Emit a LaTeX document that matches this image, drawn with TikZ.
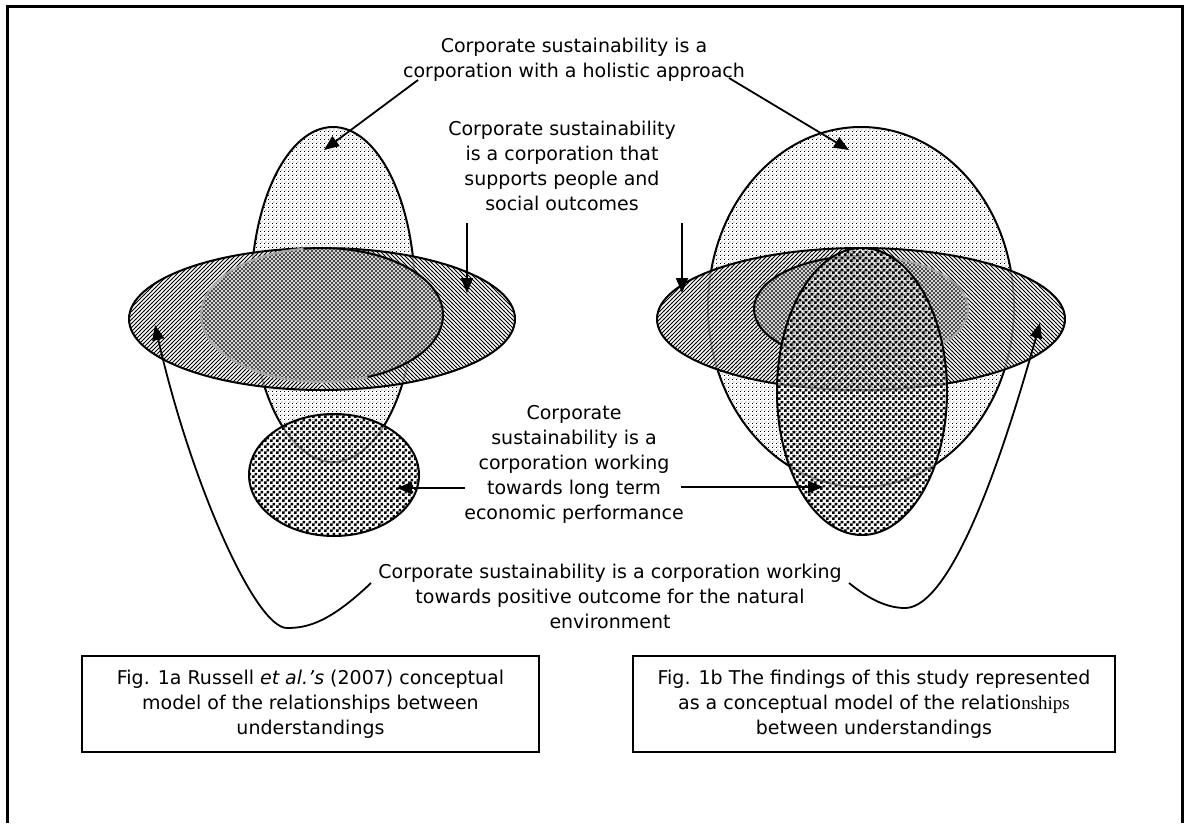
\documentclass[tikz,border=0pt]{standalone}
\usepackage{fontspec}
\setmainfont{DejaVu Sans}
\newfontfamily\serifpart{Liberation Serif}
\usetikzlibrary{patterns,arrows.meta}

\pgfdeclarepatternformonly{lightdots}{\pgfpointorigin}{\pgfqpoint{4pt}{4pt}}{\pgfqpoint{4pt}{4pt}}{%
  \pgfpathrectangle{\pgfqpoint{0pt}{0pt}}{\pgfqpoint{0.95pt}{0.95pt}}%
  \pgfpathrectangle{\pgfqpoint{2pt}{2pt}}{\pgfqpoint{0.95pt}{0.95pt}}%
  \pgfusepath{fill}}
\pgfdeclarepatternformonly{darkdots}{\pgfpointorigin}{\pgfqpoint{5.6pt}{5.6pt}}{\pgfqpoint{5.6pt}{5.6pt}}{%
  \pgfpathrectangle{\pgfqpoint{0pt}{0pt}}{\pgfqpoint{2.8pt}{2.8pt}}%
  \pgfpathrectangle{\pgfqpoint{2.8pt}{2.8pt}}{\pgfqpoint{2.8pt}{2.8pt}}%
  \pgfusepath{fill}}
\pgfdeclarepatternformonly{hne}{\pgfqpoint{-1pt}{-1pt}}{\pgfqpoint{5pt}{5pt}}{\pgfqpoint{4pt}{4pt}}{%
  \pgfsetlinewidth{0.75pt}%
  \pgfpathmoveto{\pgfqpoint{-0.2pt}{-0.2pt}}%
  \pgfpathlineto{\pgfqpoint{4.2pt}{4.2pt}}%
  \pgfusepath{stroke}}
\pgfdeclarepatternformonly{hnw}{\pgfqpoint{-1pt}{-1pt}}{\pgfqpoint{5pt}{5pt}}{\pgfqpoint{4pt}{4pt}}{%
  \pgfsetlinewidth{0.75pt}%
  \pgfpathmoveto{\pgfqpoint{-0.2pt}{4.2pt}}%
  \pgfpathlineto{\pgfqpoint{4.2pt}{-0.2pt}}%
  \pgfusepath{stroke}}

\newcommand\lblfont{\fontsize{19}{25}\selectfont}

\tikzset{
  frameline/.style={line width=3pt},
  outl/.style={line width=2pt, black},
  grayoutl/.style={line width=2pt, black!35},
  arr/.style={line width=1.8pt, -{Triangle[length=15pt,width=12pt]}},
  lbl/.style={align=center, font=\lblfont, inner sep=0pt},
  capbox/.style={draw, line width=1.6pt, align=center, font=\lblfont, minimum height=96pt, inner sep=0pt},
  innerhatch/.style={pattern color=black!70},
}

\begin{document}
\begin{tikzpicture}[x=1pt,y=-1pt]
\useasboundingbox (0,0) rectangle (1186,823);
\draw[frameline] (7,823) -- (7,6) -- (1182,6) -- (1182,823);

% ---------------- Left figure ----------------
\coordinate (LT) at (333,294.5);
\coordinate (LD) at (334,475);
\coordinate (LH) at (322,319);
\coordinate (LI) at (322,315);

% tall dotted ellipse
\fill[white] (LT) ellipse [x radius=82, y radius=167.5];
\fill[pattern=lightdots] (LT) ellipse [x radius=82, y radius=167.5];
\draw[outl] (LT) ellipse [x radius=82, y radius=167.5];

% dark small ellipse
\fill[white, opacity=0.6] (LD) ellipse [x radius=85, y radius=61];
\fill[pattern=darkdots] (LD) ellipse [x radius=85, y radius=61];
\draw[outl] (LD) ellipse [x radius=85, y radius=61];

% hatched ellipse
\fill[white, opacity=0.7] (LH) ellipse [x radius=193, y radius=71];
\begin{scope}
  \clip (LH) ellipse [x radius=193, y radius=71];
  \fill[pattern=hne] (120,240) rectangle (322,400);
  \fill[pattern=hnw] (322,240) rectangle (520,400);
\end{scope}
\draw[outl] (LH) ellipse [x radius=193, y radius=71];

% inner crosshatched ellipse
\fill[white, opacity=0.85] (LI) ellipse [x radius=121, y radius=67];
\fill[pattern=hne, innerhatch] (LI) ellipse [x radius=121, y radius=67];
\fill[pattern=hnw, innerhatch] (LI) ellipse [x radius=121, y radius=67];
\draw[grayoutl] (LI) ellipse [x radius=121, y radius=67];
\begin{scope}
  \clip (322,315) -- (290,200) -- (460,200) -- (460,420) -- (400,420) -- cycle;
  \draw[outl] (LI) ellipse [x radius=121, y radius=67];
\end{scope}

% ---------------- Right figure ----------------
\coordinate (RB) at (861,307);
\coordinate (RH) at (861,319);
\coordinate (RI) at (861,309);
\coordinate (RD) at (862,391.5);

% big dotted ellipse
\fill[white] (RB) ellipse [x radius=153, y radius=180];
\fill[pattern=lightdots] (RB) ellipse [x radius=153, y radius=180];
\draw[outl] (RB) ellipse [x radius=153, y radius=180];

% hatched ellipse
\fill[white, opacity=0.7] (RH) ellipse [x radius=204, y radius=71];
\begin{scope}
  \clip (RH) ellipse [x radius=204, y radius=71];
  \fill[pattern=hne] (650,240) rectangle (861,400);
  \fill[pattern=hnw] (861,240) rectangle (1070,400);
\end{scope}
\draw[outl] (RH) ellipse [x radius=204, y radius=71];

% inner crosshatched ellipse
\fill[white, opacity=0.85] (RI) ellipse [x radius=107, y radius=53];
\fill[pattern=hne, innerhatch] (RI) ellipse [x radius=107, y radius=53];
\fill[pattern=hnw, innerhatch] (RI) ellipse [x radius=107, y radius=53];
\draw[grayoutl] (RI) ellipse [x radius=107, y radius=53];
\begin{scope}
  \clip (861,309) -- (688,409) -- (640,409) -- (640,200) -- (866,200) -- cycle;
  \draw[outl] (RI) ellipse [x radius=107, y radius=53];
\end{scope}

% dark tall ellipse
\fill[white, opacity=0.6] (RD) ellipse [x radius=85, y radius=143.5];
\fill[pattern=darkdots] (RD) ellipse [x radius=85, y radius=143.5];
\draw[outl] (RD) ellipse [x radius=85, y radius=143.5];

% ---------------- Labels ----------------
\node[lbl] (t1) at (574,59.5) {Corporate sustainability is a\\corporation with a holistic approach};
\node[lbl] (t2) at (562,165.5) {Corporate sustainability\\is a corporation that\\supports people and\\social outcomes};
\node[lbl] (t3) at (574,464.5) {Corporate\\sustainability is a\\corporation working\\towards long term\\economic performance};
\node[lbl] (t4) at (610,596) {Corporate sustainability is a corporation working\\towards positive outcome for the natural\\environment};

% ---------------- Connectors ----------------
\coordinate (a1s) at (418,80);   \coordinate (a1e) at (324,150);
\coordinate (b1s) at (729,78);   \coordinate (b1e) at (849,150);
\coordinate (a2s) at (467,223);  \coordinate (a2e) at (467,293);
\coordinate (b2s) at (682,223);  \coordinate (b2e) at (682,293);
\coordinate (a3s) at (465,488);  \coordinate (a3e) at (397,488);
\coordinate (b3s) at (681,487);  \coordinate (b3e) at (823,487);
\coordinate (a4s) at (371,583);  \coordinate (a4m) at (287,628);  \coordinate (a4e) at (155,325);
\coordinate (b4s) at (849,583);  \coordinate (b4m) at (905,608);  \coordinate (b4e) at (1040,323);

\draw[arr] (a1s) -- (a1e);
\draw[arr] (b1s) -- (b1e);
\draw[arr] (a2s) -- (a2e);
\draw[arr] (b2s) -- (b2e);
\draw[arr] (a3s) -- (a3e);
\draw[arr] (b3s) -- (b3e);
\draw[arr] (a4s) .. controls (330,622) and (308,628) .. (a4m) .. controls (255,628) and (190,480) .. (a4e);
\draw[arr] (b4s) .. controls (870,600) and (888,608) .. (b4m) .. controls (940,608) and (985,520) .. (b4e);

% ---------------- Captions ----------------
\node[capbox, minimum width=457pt] (c1) at (310.5,704)
  {Fig. 1a Russell \textit{et al.’s} (2007) conceptual\\model of the relationships between\\understandings};
\node[capbox, minimum width=482pt] (c2) at (874,704)
  {Fig. 1b The findings of this study represented\\as a conceptual model of the relatio{\serifpart nships}\\between understandings};
\end{tikzpicture}
\end{document}
